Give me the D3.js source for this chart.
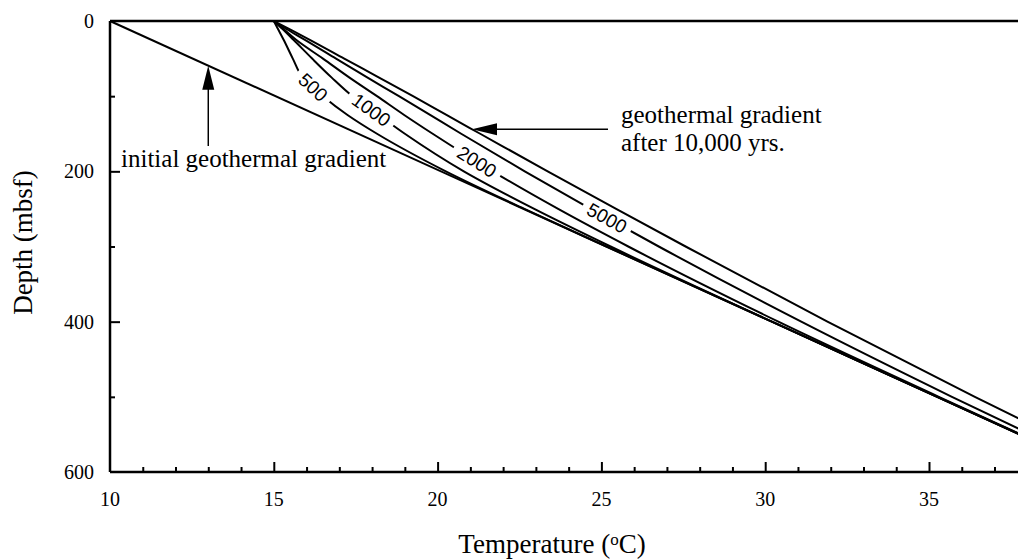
<!DOCTYPE html>
<html>
<head>
<meta charset="utf-8">
<script src="https://cdn.jsdelivr.net/npm/d3@7"></script>
<style>
  body { margin: 0; background: #fff; }
  svg { display: block; }
  .serif { font-family: "Liberation Serif", "Times New Roman", serif; fill: #000; }
  .curve-label { font-family: "Liberation Sans", Arial, sans-serif; font-size: 19px; fill: #000; }
</style>
</head>
<body>
<div id="chart"></div>
<script>
const svgWidth = 1018
const svgHeight = 559

// depths (mbsf) at which each profile was read
const depths = [0, 10, 25, 50, 75, 100, 125, 150, 200, 250, 300, 400, 500, 600]

// temperatures (oC)
const temp500 = [15, 15.12, 15.3, 15.58, 15.88, 16.5, 17.25, 18.15, 20.25, 22.65, 25.15, 30.2, 35.25, 40.3]
const temp1000 = [15, 15.25, 15.6, 16.17, 16.76, 17.4, 18.2, 19.0, 20.8, 22.95, 25.28, 30.21, 35.25, 40.3]
const temp2000 = [15, 15.28, 15.68, 16.5, 17.3, 18.15, 18.98, 19.85, 21.68, 23.68, 25.82, 30.4, 35.3, 40.3]
const temp5000 = [15, 15.36, 15.95, 16.9, 17.85, 18.82, 19.77, 20.72, 22.66, 24.67, 26.75, 31.1, 35.7, 40.5]
const temp10000 = [15, 15.45, 16.1, 17.15, 18.2, 19.25, 20.27, 21.3, 23.36, 25.45, 27.57, 31.9, 36.4, 41.05]

// initial (pre-warming) gradient, a straight line
const initialDepth = [0, 600]
const initialTemp = [10, 40.3]

// labelled profiles and the depth where each label sits
const profileNames = ["500", "1000", "2000", "5000", ""]
const labelDepths = [88, 118, 187, 262, null]

const xTicks = [10, 15, 20, 25, 30, 35]
const yTicks = [0, 200, 400, 600]

let x = d3.scaleLinear().domain([10, 35]).range([110, 929])
let y = d3.scaleLinear().domain([0, 600]).range([21, 472])

let svg = d3
  .select("#chart")
  .append("svg")
  .attr("width", svgWidth)
  .attr("height", svgHeight)

svg.append("rect").attr("width", svgWidth).attr("height", svgHeight).attr("fill", "#fff")

let profiles = [temp500, temp1000, temp2000, temp5000, temp10000].map((temps, i) => ({
  name: profileNames[i],
  labelDepth: labelDepths[i],
  points: depths.map((d, j) => ({ t: temps[j], d: d }))
}))

let line = d3
  .line()
  .x(p => x(p.t))
  .y(p => y(p.d))
  .curve(d3.curveMonotoneY)

let plot = svg.append("g")

// initial gradient
let initialPts = initialDepth.map((d, i) => ({ t: initialTemp[i], d: d }))
plot
  .append("path")
  .datum(initialPts)
  .attr("d", line)
  .attr("fill", "none")
  .attr("stroke", "#000")
  .attr("stroke-width", 2)

plot
  .selectAll(".profile")
  .data(profiles)
  .enter()
  .append("path")
  .attr("class", "profile")
  .attr("d", p => line(p.points))
  .attr("fill", "none")
  .attr("stroke", "#000")
  .attr("stroke-width", 2)

// temperature on a profile at a given depth
function tempAt(points, depth) {
  let i = d3.bisector(p => p.d).left(points, depth)
  if (i <= 0) return points[0].t
  let a = points[i - 1], b = points[i]
  return a.t + (b.t - a.t) * (depth - a.d) / (b.d - a.d)
}

// depth on a profile at a given temperature
function depthAt(points, temp) {
  for (let i = 1; i < points.length; i++) {
    let a = points[i - 1], b = points[i]
    if (temp >= a.t && temp <= b.t) return a.d + (b.d - a.d) * (temp - a.t) / (b.t - a.t)
  }
  return 0
}

// curve labels, sitting in a gap of their line
profiles.filter(p => p.name).forEach(p => {
  let cx = x(tempAt(p.points, p.labelDepth))
  let cy = y(p.labelDepth)
  let dx = x(tempAt(p.points, p.labelDepth + 12)) - x(tempAt(p.points, p.labelDepth - 12))
  let dy = y(p.labelDepth + 12) - y(p.labelDepth - 12)
  let angle = Math.atan2(dy, dx) * 180 / Math.PI

  let g = plot.append("g").attr("transform", `translate(${cx},${cy}) rotate(${angle})`)
  let w = p.name.length * 10.6 + 12
  g.append("rect")
    .attr("x", -w / 2)
    .attr("y", -9)
    .attr("width", w)
    .attr("height", 18)
    .attr("fill", "#fff")
  g.append("text")
    .attr("class", "curve-label")
    .attr("text-anchor", "middle")
    .attr("dy", "0.36em")
    .text(p.name)
})

// frame: top, left, bottom
let frame = svg.append("g").attr("stroke", "#000").attr("stroke-width", 2.5)
frame.append("line").attr("x1", x(10)).attr("x2", x(40)).attr("y1", y(0)).attr("y2", y(0))
frame.append("line").attr("x1", x(10)).attr("x2", x(10)).attr("y1", y(0)).attr("y2", y(600))
frame.append("line").attr("x1", x(10)).attr("x2", x(40)).attr("y1", y(600)).attr("y2", y(600))

// x ticks (inside)
let xAxis = d3
  .axisBottom(x)
  .tickValues(d3.range(11, 40))
  .tickSize(-5)
  .tickFormat("")
svg
  .append("g")
  .attr("transform", `translate(0,${y(600)})`)
  .call(xAxis)
  .call(g => g.select(".domain").remove())
  .call(g => g.selectAll("line").attr("stroke-width", 2).filter(d => d % 5 === 0).attr("y2", -10))

svg
  .append("g")
  .selectAll("text")
  .data(xTicks)
  .enter()
  .append("text")
  .attr("class", "serif")
  .attr("x", d => x(d))
  .attr("y", y(600) + 34)
  .attr("text-anchor", "middle")
  .style("font-size", "20px")
  .text(d => d)

// y ticks (inside)
let yAxis = d3
  .axisLeft(y)
  .tickValues([100, 200, 300, 400, 500])
  .tickSize(-5)
  .tickFormat("")
svg
  .append("g")
  .attr("transform", `translate(${x(10)},0)`)
  .call(yAxis)
  .call(g => g.select(".domain").remove())
  .call(g => g.selectAll("line").attr("stroke-width", 2).filter(d => d % 200 === 0).attr("x2", 10))

svg
  .append("g")
  .selectAll("text")
  .data(yTicks)
  .enter()
  .append("text")
  .attr("class", "serif")
  .attr("x", x(10) - 16)
  .attr("y", d => y(d))
  .attr("dy", "0.35em")
  .attr("text-anchor", "end")
  .style("font-size", "20px")
  .text(d => d)

// axis titles
let xTitle = svg
  .append("text")
  .attr("class", "serif")
  .attr("x", 552)
  .attr("y", 553)
  .attr("text-anchor", "middle")
  .style("font-size", "27px")
xTitle.append("tspan").text("Temperature (")
xTitle.append("tspan").attr("dy", -8).style("font-size", "17px").text("o")
xTitle.append("tspan").attr("dy", 8).text("C)")

svg
  .append("text")
  .attr("class", "serif")
  .attr("transform", `translate(32,${(y(0) + y(600)) / 2 - 4}) rotate(-90)`)
  .attr("text-anchor", "middle")
  .style("font-size", "27px")
  .text("Depth (mbsf)")

// annotation: initial gradient
let arrowT = 13
let tipY = y(depthAt(initialPts, arrowT))
svg.append("line")
  .attr("x1", x(arrowT)).attr("x2", x(arrowT))
  .attr("y1", 146).attr("y2", tipY + 20)
  .attr("stroke", "#000").attr("stroke-width", 1.5)
svg.append("path")
  .attr("d", `M${x(arrowT)},${tipY} l-6,24 l12,0 z`)
  .attr("fill", "#000")

svg.append("text")
  .attr("class", "serif")
  .attr("x", 121)
  .attr("y", 167)
  .style("font-size", "25px")
  .text("initial geothermal gradient")

// annotation: gradient after 10,000 yrs
let tip2T = 21.05
let tip2Y = y(depthAt(profiles[4].points, tip2T))
svg.append("line")
  .attr("x1", x(tip2T) + 22).attr("x2", 608)
  .attr("y1", tip2Y).attr("y2", tip2Y)
  .attr("stroke", "#000").attr("stroke-width", 1.5)
svg.append("path")
  .attr("d", `M${x(tip2T)},${tip2Y} l25,-6 l0,12 z`)
  .attr("fill", "#000")

let note = svg.append("text")
  .attr("class", "serif")
  .attr("x", 621)
  .attr("y", 123)
  .style("font-size", "25px")
note.append("tspan").attr("x", 621).text("geothermal gradient")
note.append("tspan").attr("x", 621).attr("dy", 28).text("after 10,000 yrs.")
</script>
</body>
</html>
